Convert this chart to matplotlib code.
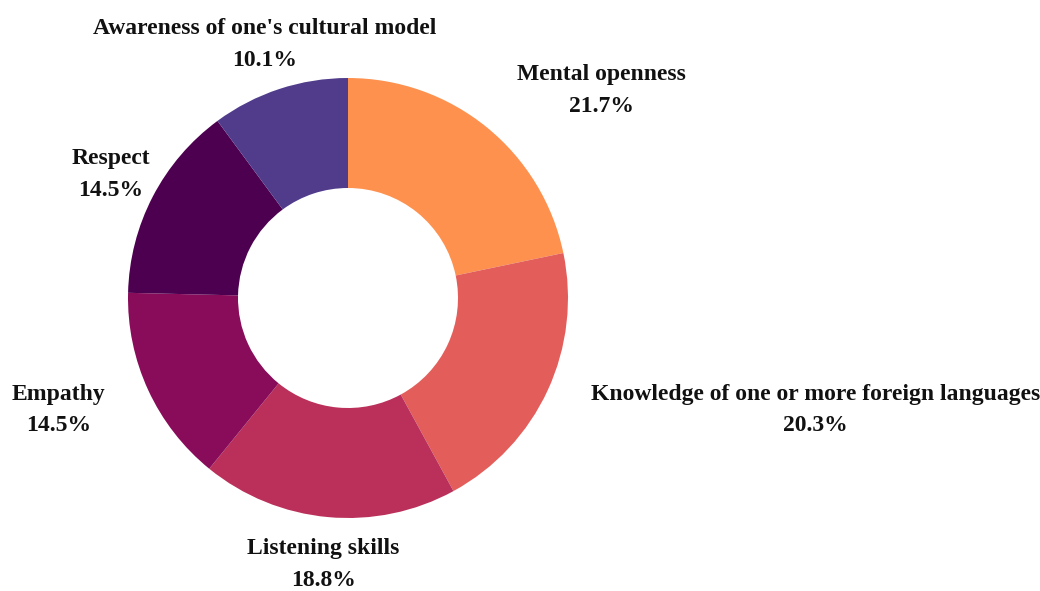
import numpy as np
import matplotlib
matplotlib.use("Agg")
import matplotlib.pyplot as plt

categories = [
    "Mental openness",
    "Knowledge of one or more foreign languages",
    "Listening skills",
    "Empathy",
    "Respect",
    "Awareness of one's cultural model",
]
shares = [21.7, 20.3, 18.8, 14.5, 14.5, 10.1]
colors = ["#fe914e", "#e35e5a", "#bb305b", "#880c59", "#4d004f", "#503c8b"]
label_align = ["left", "left", "center", "right", "center", "center"]

W, H, DPI = 1040, 591, 100
fig = plt.figure(figsize=(W / DPI, H / DPI), dpi=DPI)
ax = fig.add_axes([0, 0, 1, 1])

# donut geometry in pixels
cx, cy, R = 348, 298, 220

wedges, _ = ax.pie(
    shares,
    colors=colors,
    startangle=90,
    counterclock=False,
    radius=1.0,
    wedgeprops=dict(width=0.5, linewidth=0),
)
ax.set_aspect("auto")
ax.set_xlim(-cx / R, (W - cx) / R)
ax.set_ylim(-(H - cy) / R, cy / R)
ax.axis("off")

label_r = 1.215
total = sum(shares)
cum = 0.0
for name, val, ha in zip(categories, shares, label_align):
    mid = 90 - (cum + val / 2) / total * 360
    cum += val
    x = label_r * np.cos(np.radians(mid))
    y = label_r * np.sin(np.radians(mid))
    ax.text(
        x, y, f"{name}\n{val:.1f}%",
        ha=ha, va="center", multialignment="center",
        family="Liberation Serif", fontweight="bold", fontsize=17,
        linespacing=1.68, color="#111111",
    )

fig.savefig("out.png", dpi=DPI, facecolor="white")
